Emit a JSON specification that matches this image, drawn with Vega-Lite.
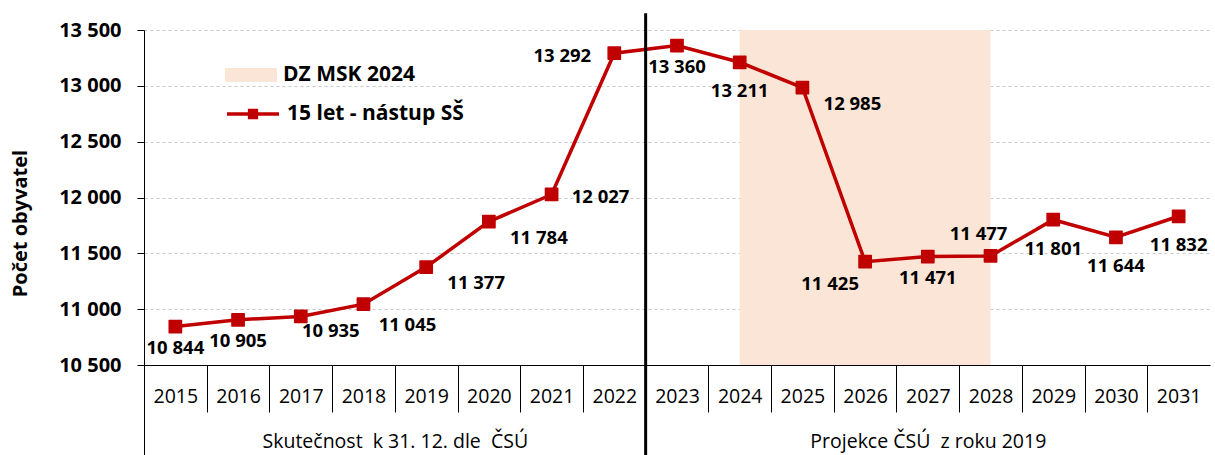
{
  "$schema": "https://vega.github.io/schema/vega-lite/v6.json",
  "width": 1066,
  "height": 335,
  "autosize": {"type": "none"},
  "padding": {"left": 144, "top": 30, "right": 5, "bottom": 90},
  "background": "white",
  "config": {
    "view": {"stroke": null},
    "font": "Open Sans",
    "locale": {"number": {"decimal": ",", "thousands": " ", "grouping": [3], "currency": ["", " Kč"]}},
    "axis": {"labelFont": "Open Sans", "titleFont": "Open Sans", "labelColor": "#000", "titleColor": "#000", "labelLimit": 600},
    "legend": {"labelFont": "Open Sans", "labelColor": "#000", "labelFontSize": 21, "labelFontWeight": "bold", "padding": 0, "labelLimit": 400}
  },
  "datasets": {
    "series": [
      {"year": 2015, "value": 10844},
      {"year": 2016, "value": 10905},
      {"year": 2017, "value": 10935},
      {"year": 2018, "value": 11045},
      {"year": 2019, "value": 11377},
      {"year": 2020, "value": 11784},
      {"year": 2021, "value": 12027},
      {"year": 2022, "value": 13292},
      {"year": 2023, "value": 13360},
      {"year": 2024, "value": 13211},
      {"year": 2025, "value": 12985},
      {"year": 2026, "value": 11425},
      {"year": 2027, "value": 11471},
      {"year": 2028, "value": 11477},
      {"year": 2029, "value": 11801},
      {"year": 2030, "value": 11644},
      {"year": 2031, "value": 11832}
    ],
    "band": [{"start": 2024, "end": 2028, "label": "DZ MSK 2024"}]
  },
  "resolve": {"axis": {"x": "independent"}},
  "layer": [
    {
      "data": {"name": "band"},
      "mark": {"type": "rect"},
      "encoding": {
        "x": {
          "field": "start", "type": "quantitative",
          "scale": {"domain": [2014.5, 2031.5], "nice": false, "zero": false},
          "axis": {
            "orient": "bottom", "title": null, "zindex": 1,
            "values": [2015, 2016, 2017, 2018, 2019, 2020, 2021, 2022, 2023, 2024, 2025, 2026, 2027, 2028, 2029, 2030, 2031],
            "format": "d", "ticks": false, "tickSize": 0, "domain": true, "domainColor": "#000", "domainWidth": 1,
            "labelFontSize": 19.5, "labelPadding": 31, "labelBaseline": "middle", "labelFlush": false, "labelOverlap": false, "grid": false
          }
        },
        "x2": {"field": "end"},
        "fill": {
          "field": "label", "type": "nominal",
          "scale": {"range": ["#FBE5D6"]},
          "legend": {
            "orient": "none", "legendX": 81, "legendY": 19, "title": null,
            "symbolType": "M-1,-0.27H1V0.27H-1Z", "symbolSize": 2704, "symbolStrokeWidth": 0, "labelOffset": 6
          }
        }
      }
    },
    {
      "data": {"name": "series"},
      "encoding": {
        "x": {
          "field": "year", "type": "quantitative",
          "scale": {"domain": [2014.5, 2031.5], "nice": false, "zero": false},
          "axis": {
            "orient": "bottom", "title": null,
            "values": [2018.5, 2027],
            "labelExpr": "datum.value < 2022 ? 'Skutečnost\u00a0 k 31. 12. dle\u00a0 ČSÚ' : 'Projekce ČSÚ\u00a0 z roku 2019'",
            "ticks": false, "tickSize": 0, "domain": false, "grid": false,
            "labelFontSize": 19.5, "labelPadding": 76, "labelBaseline": "middle", "labelFlush": false, "labelOverlap": false
          }
        },
        "y": {
          "field": "value", "type": "quantitative",
          "scale": {"domain": [10500, 13500], "nice": false, "zero": false},
          "axis": {
            "title": "Počet obyvatel", "titleFontSize": 20, "titleFontWeight": "bold", "titlePadding": 28, "titleY": 193,
            "values": [10500, 11000, 11500, 12000, 12500, 13000, 13500], "format": ",",
            "labelExpr": "format(datum.value, ',')",
            "labelFontSize": 20, "labelFontWeight": "bold", "labelPadding": 16,
            "tickSize": 7, "tickColor": "#000", "domainColor": "#000", "domainWidth": 1,
            "grid": true, "gridColor": "#C8C8C8", "gridDash": [3, 3], "gridWidth": 1
          }
        }
      },
      "layer": [
        {
          "mark": {"type": "line", "strokeWidth": 3.5},
          "encoding": {
            "stroke": {
              "datum": "15 let - nástup SŠ", "type": "nominal",
              "scale": {"range": ["#C00000"]},
              "legend": {
                "orient": "none", "legendX": 81, "legendY": 56, "title": null,
                "symbolType": "M-1,0H1M-0.13,-0.13H0.13V0.13H-0.13Z", "symbolSize": 2704, "symbolStrokeWidth": 3.5,
                "symbolFillColor": "#C00000", "labelOffset": 6
              }
            }
          }
        },
        {
          "mark": {"type": "point", "shape": "square", "filled": true, "size": 150, "color": "#C00000", "stroke": "#C00000", "strokeWidth": 1.5, "strokeJoin": "round", "opacity": 1}
        },
        {
          "transform": [{"filter": {"field": "year", "oneOf": [2015, 2016, 2023, 2027]}}],
          "mark": {"type": "text", "fontSize": 18.5, "fontWeight": "bold", "color": "#000", "align": "center", "baseline": "middle", "dx": 0, "dy": 21},
          "encoding": {"text": {"field": "value", "type": "quantitative", "format": ","}}
        },
        {
          "transform": [{"filter": {"field": "year", "oneOf": [2024, 2029, 2030, 2031]}}],
          "mark": {"type": "text", "fontSize": 18.5, "fontWeight": "bold", "color": "#000", "align": "center", "baseline": "middle", "dx": 0, "dy": 29},
          "encoding": {"text": {"field": "value", "type": "quantitative", "format": ","}}
        },
        {
          "transform": [{"filter": {"field": "year", "oneOf": [2019, 2020, 2025]}}],
          "mark": {"type": "text", "fontSize": 18.5, "fontWeight": "bold", "color": "#000", "align": "center", "baseline": "middle", "dx": 50, "dy": 16},
          "encoding": {"text": {"field": "value", "type": "quantitative", "format": ","}}
        },
        {
          "transform": [{"filter": {"field": "year", "oneOf": [2017]}}],
          "mark": {"type": "text", "fontSize": 18.5, "fontWeight": "bold", "color": "#000", "align": "center", "baseline": "middle", "dx": 30, "dy": 15},
          "encoding": {"text": {"field": "value", "type": "quantitative", "format": ","}}
        },
        {
          "transform": [{"filter": {"field": "year", "oneOf": [2018]}}],
          "mark": {"type": "text", "fontSize": 18.5, "fontWeight": "bold", "color": "#000", "align": "center", "baseline": "middle", "dx": 44, "dy": 21},
          "encoding": {"text": {"field": "value", "type": "quantitative", "format": ","}}
        },
        {
          "transform": [{"filter": {"field": "year", "oneOf": [2021]}}],
          "mark": {"type": "text", "fontSize": 18.5, "fontWeight": "bold", "color": "#000", "align": "center", "baseline": "middle", "dx": 49, "dy": 3},
          "encoding": {"text": {"field": "value", "type": "quantitative", "format": ","}}
        },
        {
          "transform": [{"filter": {"field": "year", "oneOf": [2022]}}],
          "mark": {"type": "text", "fontSize": 18.5, "fontWeight": "bold", "color": "#000", "align": "center", "baseline": "middle", "dx": -52, "dy": 3},
          "encoding": {"text": {"field": "value", "type": "quantitative", "format": ","}}
        },
        {
          "transform": [{"filter": {"field": "year", "oneOf": [2026]}}],
          "mark": {"type": "text", "fontSize": 18.5, "fontWeight": "bold", "color": "#000", "align": "center", "baseline": "middle", "dx": -35, "dy": 22},
          "encoding": {"text": {"field": "value", "type": "quantitative", "format": ","}}
        },
        {
          "transform": [{"filter": {"field": "year", "oneOf": [2028]}}],
          "mark": {"type": "text", "fontSize": 18.5, "fontWeight": "bold", "color": "#000", "align": "center", "baseline": "middle", "dx": -12, "dy": -22},
          "encoding": {"text": {"field": "value", "type": "quantitative", "format": ","}}
        }
      ]
    },
    {
      "data": {"values": [{}]},
      "mark": {"type": "rule", "color": "#000", "strokeWidth": 3},
      "encoding": {
        "x": {
          "datum": 2022.5, "type": "quantitative",
          "scale": {"domain": [2014.5, 2031.5], "nice": false, "zero": false},
          "axis": {
            "orient": "bottom", "title": null, "zindex": 1,
            "values": [2014.5, 2015.5, 2016.5, 2017.5, 2018.5, 2019.5, 2020.5, 2021.5, 2022.5, 2023.5, 2024.5, 2025.5, 2026.5, 2027.5, 2028.5, 2029.5, 2030.5],
            "labels": false, "domain": false, "grid": false, "ticks": true, "tickColor": "#000", "tickWidth": 1,
            "tickSize": {"condition": {"test": "datum.value < 2015", "value": 90}, "value": 47}
          }
        },
        "y": {"datum": 13650, "type": "quantitative", "scale": {"domain": [10500, 13500], "nice": false, "zero": false}, "axis": {"format": ","}},
        "y2": {"datum": 9690}
      }
    }
  ]
}
